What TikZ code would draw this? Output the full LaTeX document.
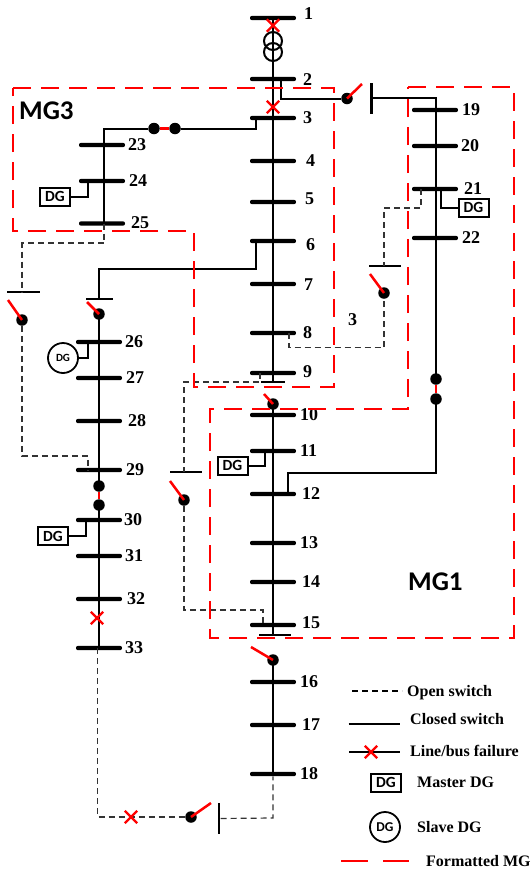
\documentclass[tikz,border=0pt]{standalone}
\usepackage{fontspec}
\setmainfont{Liberation Serif}
\newfontfamily\dgfont{Carlito}
\usetikzlibrary{shapes.misc}
\tikzset{
    bus/.style = {fill = black, rounded corners = 2pt, minimum width = 46pt, minimum height = 4.4pt, inner sep = 0pt},
    tbar/.style = {fill = black, minimum height = 2.2pt, inner sep = 0pt},
    feeder/.style = {line width = 2pt, black},
    opensw/.style = {line width = 1.2pt, black!80, dash pattern = on 6pt off 4pt},
    tiesw/.style = {line width = 2.5pt, red},
    mgline/.style = {line width = 2.4pt, red, dash pattern = on 18pt off 10pt},
    dot/.style = {circle, fill = black, minimum size = 11.5pt, inner sep = 0pt},
    fail/.style = {cross out, draw = red, line width = 2.4pt, minimum size = 10pt, inner sep = 0pt},
    num/.style = {anchor = west, inner sep = 0pt, font = \bfseries\fontsize{18}{19}\selectfont},
    note/.style = {anchor = west, inner sep = 0pt, font = \bfseries\fontsize{16}{17}\selectfont},
    mgname/.style = {anchor = west, inner sep = 0pt, font = \dgfont\bfseries\fontsize{27}{28}\selectfont},
    master/.style = {draw, line width = 2pt, fill = white, minimum width = 30pt, minimum height = 18pt, inner sep = 0pt, font = \dgfont\bfseries\fontsize{15.5}{16}\selectfont},
    slave/.style = {circle, draw, line width = 1.8pt, fill = white, minimum size = 30pt, inner sep = 0pt, font = \dgfont\bfseries\fontsize{11}{12}\selectfont}
}
\begin{document}
\begin{tikzpicture}[x = 1pt, y = -1pt]
    \useasboundingbox (0,0) rectangle (532,871);

    % main feeder
    \node[bus] (b1) at (273,18) {};      \node[num] (n1) at (304,14) {1};
    \node[bus] (b2) at (273,79) {};      \node[num] (n2) at (303,80) {2};
    \node[bus] (b3) at (273,118) {};     \node[num] (n3) at (303,118) {3};
    \node[bus] (b4) at (273,161) {};     \node[num] (n4) at (306,161) {4};
    \node[bus] (b5) at (273,202) {};     \node[num] (n5) at (305,199) {5};
    \node[bus] (b6) at (273,241) {};     \node[num] (n6) at (306,245) {6};
    \node[bus] (b7) at (273,284) {};     \node[num] (n7) at (304,285) {7};
    \node[bus] (b8) at (273,333) {};     \node[num] (n8) at (303,333) {8};
    \node[bus] (b9) at (273,373) {};     \node[num] (n9) at (303,372) {9};
    \node[bus] (b10) at (273,415) {};    \node[num] (n10) at (300,415) {10};
    \node[bus] (b11) at (273,451) {};    \node[num] (n11) at (300,451) {11};
    \node[bus] (b12) at (273,494) {};    \node[num] (n12) at (302,494) {12};
    \node[bus] (b13) at (273,543) {};    \node[num] (n13) at (300,543) {13};
    \node[bus] (b14) at (273,582) {};    \node[num] (n14) at (302,582) {14};
    \node[bus] (b15) at (273,625) {};    \node[num] (n15) at (302,623) {15};
    \node[bus] (b16) at (273,682) {};    \node[num] (n16) at (300,682) {16};
    \node[bus] (b17) at (273,725) {};    \node[num] (n17) at (302,725) {17};
    \node[bus] (b18) at (273,774) {};    \node[num] (n18) at (300,774) {18};

    % right branch
    \node[bus] (b19) at (435,110) {};    \node[num] (n19) at (462,110) {19};
    \node[bus] (b20) at (435,146) {};    \node[num] (n20) at (461,146) {20};
    \node[bus] (b21) at (435,189) {};    \node[num] (n21) at (464,189) {21};
    \node[bus] (b22) at (435,238) {};    \node[num] (n22) at (462,238) {22};

    % left branches
    \node[bus] (b23) at (102,145) {};    \node[num] (n23) at (128,145) {23};
    \node[bus] (b24) at (102,181) {};    \node[num] (n24) at (129,181) {24};
    \node[bus] (b25) at (102,223.5) {};  \node[num] (n25) at (131,223) {25};
    \node[bus] (b26) at (99,342) {};     \node[num] (n26) at (125,342) {26};
    \node[bus] (b27) at (99,378) {};     \node[num] (n27) at (126,378) {27};
    \node[bus] (b28) at (99,421) {};     \node[num] (n28) at (128,421) {28};
    \node[bus] (b29) at (99,470) {};     \node[num] (n29) at (126,470) {29};
    \node[bus] (b30) at (99,520) {};     \node[num] (n30) at (124,520) {30};
    \node[bus] (b31) at (99,556) {};     \node[num] (n31) at (125,556) {31};
    \node[bus] (b32) at (99,599) {};     \node[num] (n32) at (127,599) {32};
    \node[bus] (b33) at (99,648) {};     \node[num] (n33) at (125,648) {33};

    % thin bars next to the switches
    \node[tbar, minimum width = 24pt] (t9) at (273,382) {};
    \node[tbar, minimum width = 32pt] (t15) at (275,635) {};
    \node[tbar, minimum width = 27pt] (t26) at (99.5,299) {};
    \node[tbar, minimum width = 33pt] (t25) at (23.5,292) {};
    \node[tbar, minimum width = 32pt] (t21) at (385,266) {};
    \node[tbar, minimum width = 32pt] (t9b) at (185.5,472) {};
    \node[fill = black, minimum width = 2.8pt, minimum height = 31pt, inner sep = 0pt] (t2) at (371.5,98) {};
    \node[fill = black, minimum width = 2.8pt, minimum height = 31pt, inner sep = 0pt] (t18) at (219,818.5) {};

    % switches
    \node[dot] (d9) at (273,404) {};
    \node[dot] (d15) at (273,660) {};
    \node[dot] (d26) at (99,314) {};
    \node[dot] (d25) at (22,320) {};
    \node[dot] (d8) at (384,293) {};
    \node[dot] (d9b) at (184,500) {};
    \node[dot] (d2) at (347,98.5) {};
    \node[dot] (d33) at (191,817) {};
    \node[dot] (d3a) at (154,128.5) {};
    \node[dot] (d3b) at (175,128.5) {};
    \node[dot] (d29) at (99,486) {};
    \node[dot] (d30) at (99,505) {};
    \node[dot] (d22) at (436,379) {};
    \node[dot] (d12) at (436,399) {};

    % blade ends
    \coordinate (e9) at (264,394);
    \coordinate (e15) at (251,647);
    \coordinate (e26) at (87,302);
    \coordinate (e25) at (8,300);
    \coordinate (e8) at (370,274);
    \coordinate (e9b) at (170,481);
    \coordinate (e2) at (362,84);
    \coordinate (e33) at (211,803);

    % bends and taps
    \coordinate (f3) at (255.5,118);
    \coordinate (f25) at (104,223.5);
    \coordinate (f6) at (255.5,241);
    \coordinate (f2) at (280.5,79);
    \coordinate (f12) at (288,494);
    \coordinate (f27) at (99,269);
    \coordinate (f24) at (88,181);
    \coordinate (f26) at (88,342);
    \coordinate (f30) at (86,520);
    \coordinate (f11) at (265,451);
    \coordinate (f21) at (441,189);
    \coordinate (k12) at (288,473);
    \coordinate (k25) at (22,243);
    \coordinate (k29) at (22,456);
    \coordinate (h29) at (88,470);
    \coordinate (k8) at (289,347.5);
    \coordinate (h8) at (289,333);
    \coordinate (k21) at (384,208);
    \coordinate (h21) at (421,189);
    \coordinate (k9) at (184,382);
    \coordinate (h9) at (260,373);
    \coordinate (k15) at (184,610);
    \coordinate (h15) at (263,625);
    \coordinate (h33) at (97.5,648);
    \coordinate (k18) at (273,818);

    % closed lines
    \draw[feeder] (b1.center) -- (b1 |- t9);
    \draw[feeder] (d9.center) -- (d9 |- t15);
    \draw[feeder] (d15.center) -- (b18.center);
    \draw[feeder] (f3) |- (d3b);
    \draw[feeder] (d3a) -| (f25);
    \draw[feeder] (f6) |- (f27) -- (f27 |- t26);
    \draw[feeder] (d26.center) -- (d29.center);
    \draw[feeder] (d30.center) -- (b33.center);
    \draw[feeder] (f2) |- (d2);
    \draw[feeder] (t2) -| (d22.center);
    \draw[feeder] (d12.center) |- (k12) -- (f12);

    % open lines
    \draw[opensw] (f25) |- (k25) -- (k25 |- t25);
    \draw[opensw] (d25) |- (k29) -| (h29);
    \draw[opensw] (h8) |- (k8) -| (d8);
    \draw[opensw] (h21) |- (k21) -- (k21 |- t21);
    \draw[opensw] (h9) |- (k9) -- (k9 |- t9b);
    \draw[opensw] (d9b) |- (k15) -| (h15);
    \draw[opensw] (h33) |- (d33);
    \draw[opensw] (t18) -- (k18) -- (b18);

    % transformer
    \draw[feeder] (273,41) circle [radius = 9pt];
    \draw[feeder] (273,52) circle [radius = 9pt];

    % DG units
    \node[master] (g24) at (55,196.5) {DG};
    \draw[feeder] (g24) -| (f24);
    \node[slave] (g26) at (63,358) {DG};
    \draw[feeder] (g26) -| (f26);
    \node[master] (g30) at (53,536) {DG};
    \draw[feeder] (g30) -| (f30);
    \node[master] (g11) at (232.5,465.5) {DG};
    \draw[feeder] (g11) -| (f11);
    \node[master] (g21) at (473.5,207.5) {DG};
    \draw[feeder] (g21) -| (f21);

    % red parts
    \draw[mgline] (13,88) -- (334,88) -- (334,387) -- (194,387) -- (194,231) -- (13,231) -- cycle;
    \draw[mgline] (408,87) -- (514,87) -- (514,638) -- (210,638) -- (210,409) -- (408,409) -- cycle;
    \draw[tiesw] (d9.center) -- (e9);
    \draw[tiesw] (d15.center) -- (e15);
    \draw[tiesw] (d26.center) -- (e26);
    \draw[tiesw] (d25.center) -- (e25);
    \draw[tiesw] (d8.center) -- (e8);
    \draw[tiesw] (d9b.center) -- (e9b);
    \draw[tiesw] (d2.center) -- (e2);
    \draw[tiesw] (d33.center) -- (e33);
    \draw[tiesw] (d3a) -- (d3b);
    \draw[tiesw] (d29) -- (d30);
    \draw[tiesw] (d22) -- (d12);
    \node[fail] (x1) at (273,25.5) {};
    \node[fail] (x2) at (273,107) {};
    \node[fail] (x32) at (97,618) {};
    \node[fail] (x33) at (131,817) {};

    \node[mgname] (m3) at (19,111) {MG3};
    \node[mgname] (m1) at (408,582) {MG1};
    \node[num] (n0) at (348,320) {3};

    % legend
    \coordinate (la) at (352,691);   \coordinate (lb) at (402,691);
    \coordinate (lc) at (348.5,724); \coordinate (ld) at (400,724);
    \coordinate (le) at (349,752);   \coordinate (lf) at (400,752);
    \coordinate (lg) at (341,861);   \coordinate (lh) at (409,861);
    \draw[line width = 1.2pt, black, dash pattern = on 6pt off 4pt] (la) -- (lb);
    \draw[feeder] (lc) -- (ld);
    \draw[feeder] (le) -- (lf);
    \node[fail] (x0) at (371,752) {};
    \draw[line width = 2.8pt, red, dash pattern = on 27pt off 15pt] (lg) -- (lh);
    \node[master] (g0) at (386,782.5) {DG};
    \node[slave, font = \dgfont\bfseries\fontsize{13.5}{14}\selectfont] (s0) at (385,827) {DG};
    \node[note] (l1) at (407,692.5) {Open switch};
    \node[note] (l2) at (410,719) {Closed switch};
    \node[note] (l3) at (410,751) {Line/bus failure};
    \node[note] (l4) at (417,782) {Master DG};
    \node[note] (l5) at (417,827) {Slave DG};
    \node[note] (l6) at (426,861) {Formatted MG};
\end{tikzpicture}
\end{document}
